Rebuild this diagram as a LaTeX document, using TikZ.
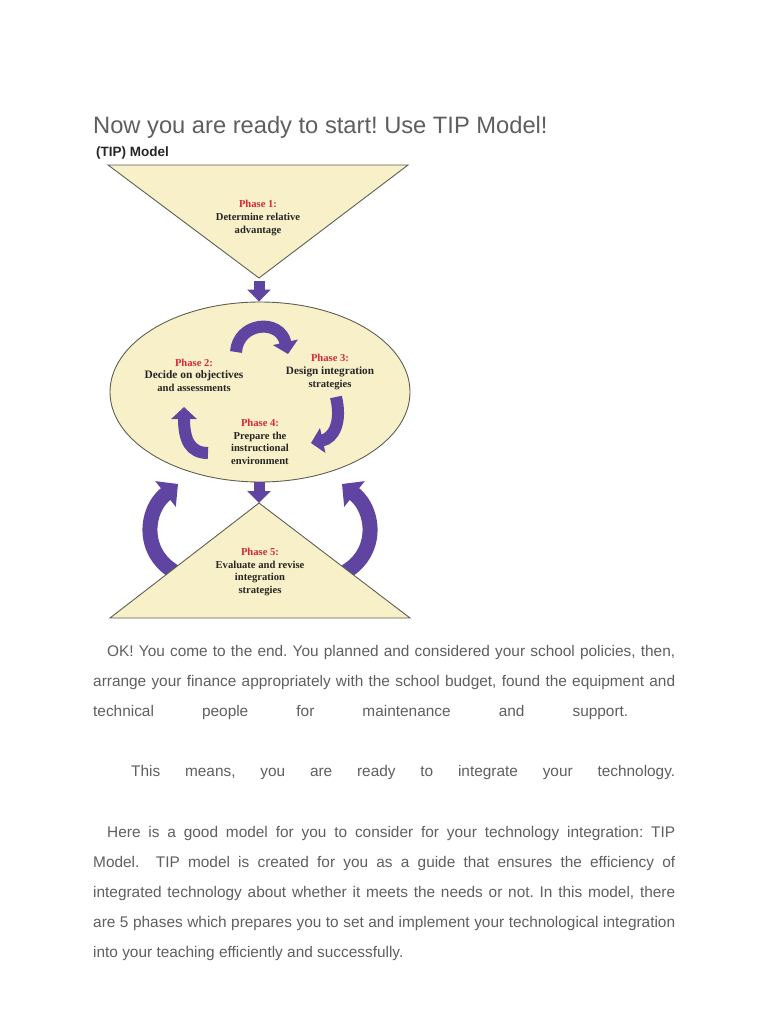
\documentclass[tikz,border=0pt]{standalone}
\usepackage{fontspec}
\setmainfont{Liberation Sans}
\newfontfamily\phasefont{Liberation Serif}
\usetikzlibrary{positioning,calc,shapes.geometric,arrows.meta}
\definecolor{TipCream}{RGB}{247,240,200}
\definecolor{TipPurple}{RGB}{96,68,162}
\definecolor{TipRed}{RGB}{212,42,56}
\definecolor{TipEdge}{RGB}{95,95,85}
\definecolor{PageGray}{RGB}{95,95,95}
\frenchspacing
\tikzset{
	phasebox/.style={draw=TipEdge,fill=TipCream,line width=0.9pt},
	down/.style={draw=TipPurple,line width=11pt,-{Triangle[width=23pt,length=12pt]}},
	turn/.style={draw=TipPurple,line width=12pt,-{Triangle[width=25pt,length=12pt]}},
	swing/.style={draw=TipPurple,line width=15pt,-{Triangle[width=32pt,length=16pt]}},
	ptext/.style={font=\phasefont\bfseries\fontsize{10.6}{12.6}\selectfont,align=center,text=black!85,inner sep=0pt},
	body/.style={anchor=base west,inner sep=0pt,font=\fontsize{15.4}{18}\selectfont,text=PageGray},
}
\newcommand{\ph}[1]{\textcolor{TipRed}{#1}}

\begin{document}
\begin{tikzpicture}[x=1pt,y=-1pt]
	\useasboundingbox[fill=white] (0,0) rectangle (768,1024);
	\node[anchor=base west,inner sep=0pt,font=\fontsize{23.7}{28}\selectfont,text=PageGray] (title) at (93,134) {Now you are ready to start! Use TIP Model!};
	\node[anchor=base west,inner sep=0pt,font=\bfseries\fontsize{13.5}{16}\selectfont,text=black!85] (cap) at (96,157) {(TIP) Model};
	\coordinate (ta) at (108,165);
	\coordinate (tb) at (408,165);
	\coordinate (tc) at (259,278);
	\coordinate (ba) at (259,503);
	\coordinate (bb) at (410,618);
	\coordinate (bc) at (110,618);
	\draw[phasebox] (ta)--(tb)--(tc)--cycle;
	\node[ellipse,phasebox,minimum width=300pt,minimum height=180pt,inner sep=0pt] (ell) at (260,392) {};
	\draw[down] ($(tc)+(0,3)$) -- (tc |- ell.north);
	\draw[down] (ell.south -| ba) -- (ba);
	\draw[swing] (188,578) .. controls (140,562) and (143,512) .. (178,484);
	\draw[swing] (332,578) .. controls (380,562) and (377,512) .. (342,484);
	\draw[phasebox] (ba)--(bb)--(bc)--cycle;
	\draw[turn] (236,352) .. controls (238,322) and (280,318) .. (288,354);
	\draw[turn] (336,397) .. controls (342,422) and (334,438) .. (311,443);
	\draw[turn] (208,453) .. controls (190,453) and (184,440) .. (184,407);
	\node[ptext] (p1) at (258,218) {\ph{Phase 1:}\\Determine relative\\advantage};
	\node[ptext] (p2) at (194,375) {\ph{Phase 2:}\\{\fontsize{11.4}{12.6}\selectfont Decide on objectives}\\and assessments};
	\node[ptext] (p3) at (330,372) {\ph{Phase 3:}\\{\fontsize{11.2}{12.6}\selectfont Design integration}\\strategies};
	\node[ptext] (p4) at (260,442) {\ph{Phase 4:}\\Prepare the\\instructional\\environment};
	\node[ptext] (p5) at (260,572) {\ph{Phase 5:}\\Evaluate and revise\\integration\\strategies};
	\node[body] (l1) at (107,656) {\makebox[568pt][s]{OK! You come to the end. You planned and considered your school policies, then,}};
	\node[body] (l2) at (93,686) {\makebox[582pt][s]{arrange your finance appropriately with the school budget, found the equipment and}};
	\node[body] (l3) at (93,716) {\makebox[535pt][s]{technical people for maintenance and support.}};
	\node[body] (l4) at (131,776) {\makebox[544pt][s]{This means, you are ready to integrate your technology.}};
	\node[body] (l5) at (107,837) {\makebox[568pt][s]{Here is a good model for you to consider for your technology integration: TIP}};
	\node[body] (l6) at (93,867) {\makebox[582pt][s]{Model.\ \ TIP model is created for you as a guide that ensures the efficiency of}};
	\node[body] (l7) at (93,897) {\makebox[582pt][s]{integrated technology about whether it meets the needs or not. In this model, there}};
	\node[body] (l8) at (93,927) {\makebox[582pt][s]{are 5 phases which prepares you to set and implement your technological integration}};
	\node[body] (l9) at (93,957) {into your teaching efficiently and successfully.};
\end{tikzpicture}
\end{document}
